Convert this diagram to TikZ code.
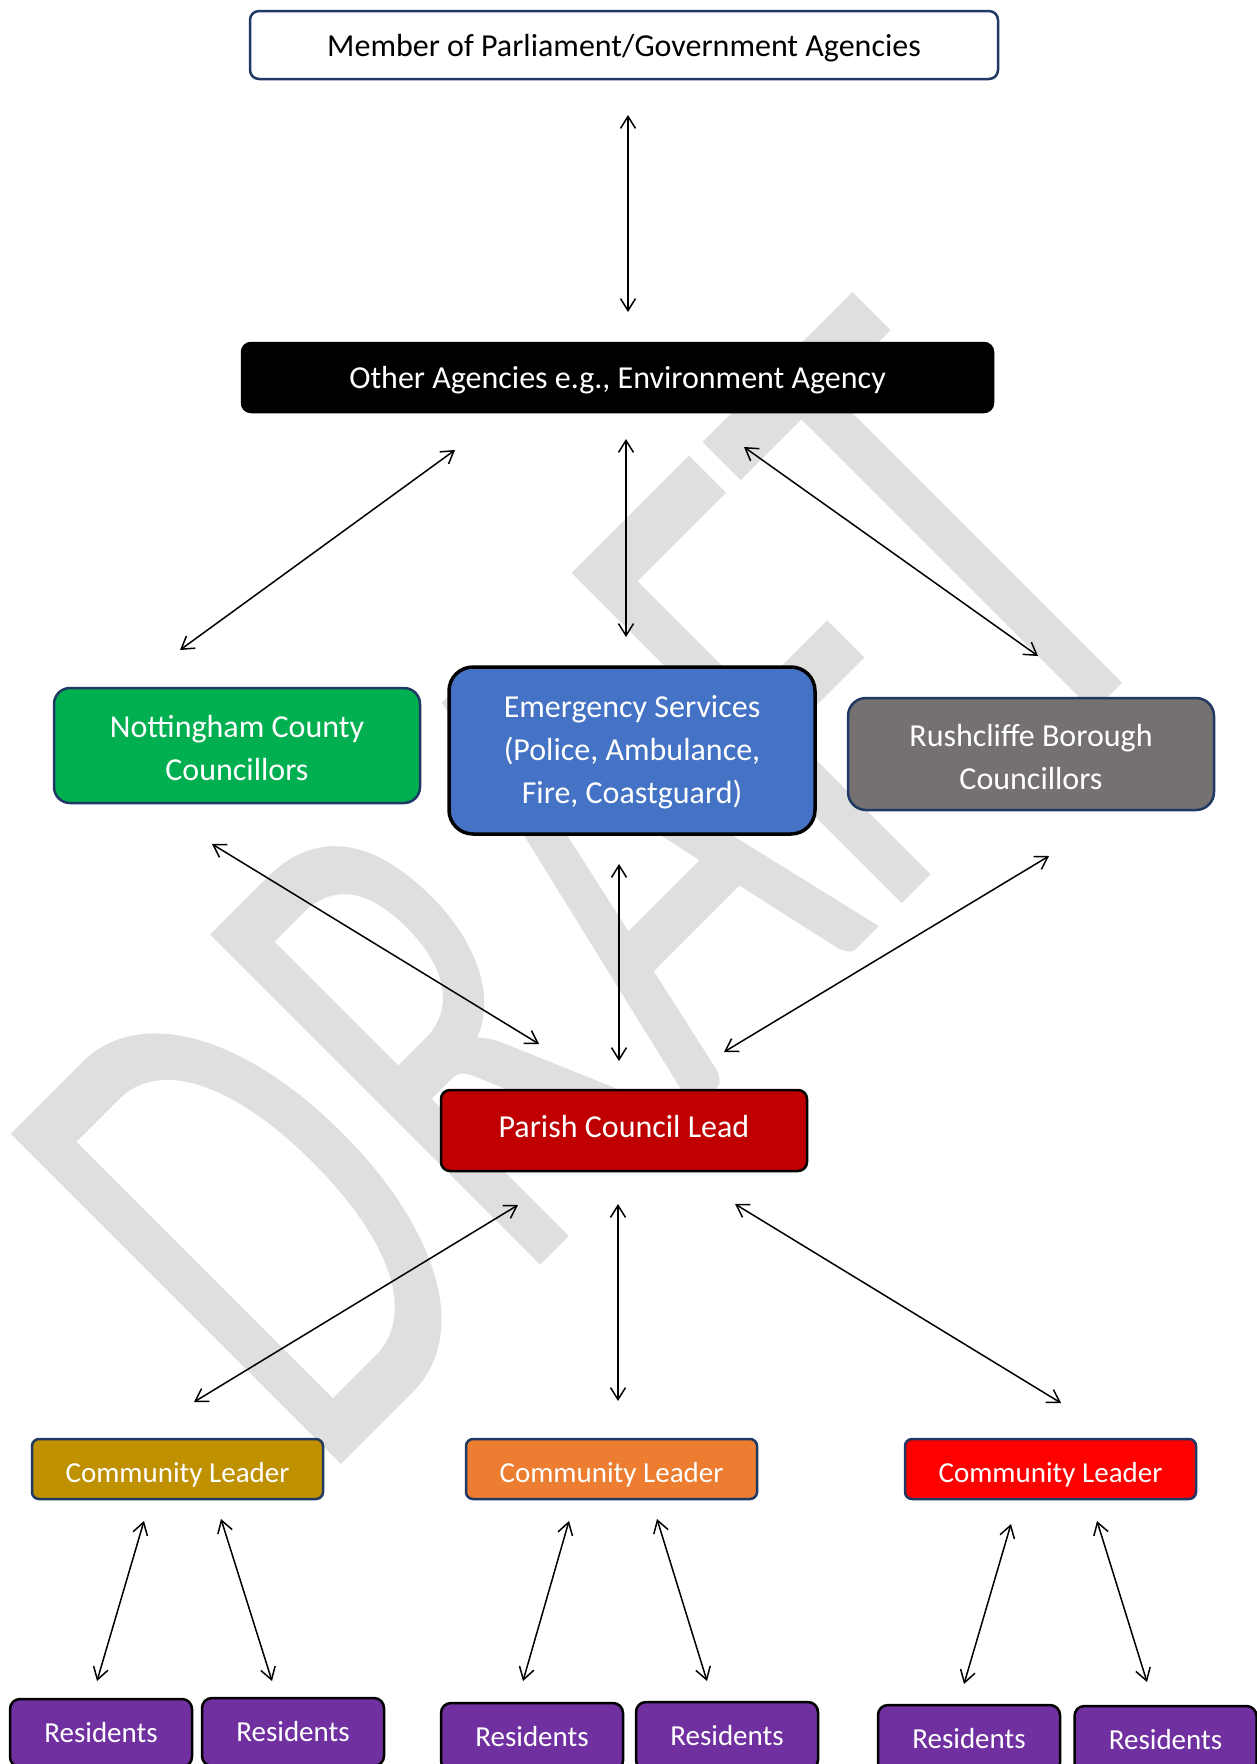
\documentclass[tikz,border=0pt]{standalone}
\usepackage{fontspec}
\usepackage{graphicx}
\setmainfont{Carlito}
\usetikzlibrary{arrows.meta}
\definecolor{bnavy}{HTML}{1F3864}
\definecolor{nottgreen}{HTML}{00B050}
\definecolor{emblue}{HTML}{4472C4}
\definecolor{rushgray}{HTML}{767171}
\definecolor{parishred}{HTML}{C00000}
\definecolor{clgold}{HTML}{BF9000}
\definecolor{clorange}{HTML}{ED7D31}
\definecolor{clred}{HTML}{FF0000}
\definecolor{respurple}{HTML}{7030A0}
\definecolor{wmgray}{HTML}{DFDFDF}
\begin{document}
\begin{tikzpicture}[x=1pt,y=-1pt,
  box/.style={draw, rounded corners=9pt, line width=2.5pt, inner sep=0pt, align=center, text=white, font=\fontsize{32}{43}\selectfont},
  base/.style={text height=#1, text depth=0pt},
  clbox/.style={box, draw=bnavy, minimum width=291pt, minimum height=60pt, rounded corners=7pt, font=\fontsize{29}{35}\selectfont, base=27pt},
  resbox/.style={box, draw=black, fill=respurple, minimum width=182pt, minimum height=68pt, rounded corners=10pt, font=\fontsize{29}{35}\selectfont, base=19.5pt},
  conn/.style={line width=1.5pt, {Straight Barb[length=12pt,width=15pt]}-{Straight Barb[length=12pt,width=15pt]}}
]
\fill[white] (0,0) rectangle (1257,1764);
\clip (0,0) rectangle (1257,1764);
% watermark
\node[text=wmgray, rotate=45, anchor=base west, inner sep=0pt, font=\fontsize{728}{728}\selectfont] (wm) at (319,1487) {\scalebox{0.628}[1]{DRAFT}};
% boxes
\node[box, draw=bnavy, fill=white, text=black, minimum width=748pt, minimum height=68pt, base=23pt] (mp) at (624,45) {Member of Parliament/Government Agencies};
\node[box, draw=black, fill=black, minimum width=751pt, minimum height=69pt, base=21pt] (oa) at (617.5,377.5) {Other Agencies e.g., Environment Agency};
\node[box, draw=bnavy, fill=nottgreen, minimum width=366pt, minimum height=115pt, rounded corners=16pt, text height=70pt, text depth=0pt] (nott) at (237,745.5) {Nottingham County\\Councillors};
\node[box, draw=black, fill=emblue, line width=3.5pt, minimum width=366pt, minimum height=167pt, rounded corners=24pt, text height=112pt, text depth=6.4pt] (emerg) at (632,750.5) {Emergency Services\\(Police, Ambulance,\\Fire, Coastguard)};
\node[box, draw=bnavy, fill=rushgray, minimum width=366pt, minimum height=112pt, rounded corners=18pt, text height=70pt, text depth=0pt] (rush) at (1031,754) {Rushcliffe Borough\\Councillors};
\node[box, draw=black, fill=parishred, minimum width=366pt, minimum height=81pt, base=13pt] (parish) at (624,1130.5) {Parish Council Lead};
\node[clbox, fill=clgold] (cl1) at (177.5,1469) {Community Leader};
\node[clbox, fill=clorange] (cl2) at (611.5,1469) {Community Leader};
\node[clbox, fill=clred] (cl3) at (1050.5,1469) {Community Leader};
\node[resbox] (r1) at (101,1733) {Residents};
\node[resbox] (r2) at (293,1732) {Residents};
\node[resbox] (r3) at (532,1737) {Residents};
\node[resbox] (r4) at (727,1736) {Residents};
\node[resbox] (r5) at (969,1739) {Residents};
\node[resbox] (r6) at (1165.5,1740) {Residents};
% connector end points
\coordinate (mpoa1) at (628,115);   \coordinate (mpoa2) at (628,312);
\coordinate (oano1) at (455,450);   \coordinate (oano2) at (180,650);
\coordinate (oaem1) at (626,439);   \coordinate (oaem2) at (626,637);
\coordinate (oaru1) at (744,447);   \coordinate (oaru2) at (1038,656);
\coordinate (nopa1) at (212,844);   \coordinate (nopa2) at (539,1044);
\coordinate (empa1) at (619,864);   \coordinate (empa2) at (619,1061);
\coordinate (rupa1) at (1049,856);  \coordinate (rupa2) at (724,1052);
\coordinate (pac11) at (518,1205);  \coordinate (pac12) at (194,1402);
\coordinate (pac21) at (618,1204);  \coordinate (pac22) at (618,1401);
\coordinate (pac31) at (735,1204);  \coordinate (pac32) at (1061,1403);
\coordinate (c1r11) at (144,1521);  \coordinate (c1r12) at (97,1681);
\coordinate (c1r21) at (221,1519);  \coordinate (c1r22) at (272,1681);
\coordinate (c2r31) at (569,1521);  \coordinate (c2r32) at (523,1681);
\coordinate (c2r41) at (657,1519);  \coordinate (c2r42) at (707,1681);
\coordinate (c3r51) at (1011,1524); \coordinate (c3r52) at (964,1684);
\coordinate (c3r61) at (1097,1521); \coordinate (c3r62) at (1147,1682);
% connectors
\draw[conn] (mpoa1) -- (mpoa2);
\draw[conn] (oano1) -- (oano2);
\draw[conn] (oaem1) -- (oaem2);
\draw[conn] (oaru1) -- (oaru2);
\draw[conn] (nopa1) -- (nopa2);
\draw[conn] (empa1) -- (empa2);
\draw[conn] (rupa1) -- (rupa2);
\draw[conn] (pac11) -- (pac12);
\draw[conn] (pac21) -- (pac22);
\draw[conn] (pac31) -- (pac32);
\draw[conn] (c1r11) -- (c1r12);
\draw[conn] (c1r21) -- (c1r22);
\draw[conn] (c2r31) -- (c2r32);
\draw[conn] (c2r41) -- (c2r42);
\draw[conn] (c3r51) -- (c3r52);
\draw[conn] (c3r61) -- (c3r62);
\end{tikzpicture}
\end{document}
